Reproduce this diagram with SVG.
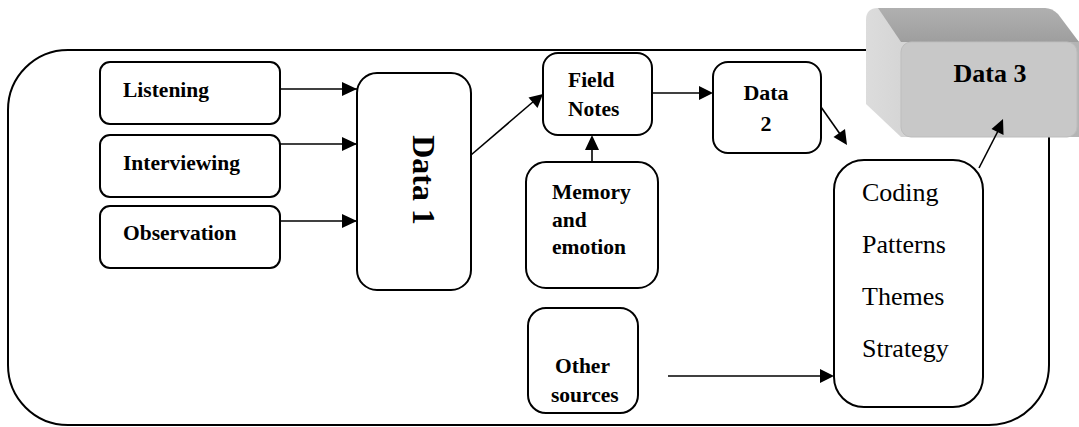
<svg xmlns="http://www.w3.org/2000/svg" width="1079" height="427" viewBox="0 0 1079 427">
  <defs>
    <style>
      .box { fill: #ffffff; stroke: #000000; stroke-width: 2; }
      .outer { fill: none; stroke: #000000; stroke-width: 2; }
      .lbl { font-family: "Liberation Serif", "Times New Roman", serif; font-weight: bold; font-size: 21.5px; fill: #000000; }
      .reg { font-family: "Liberation Serif", "Times New Roman", serif; font-size: 26px; fill: #000000; }
      .conn { stroke: #000000; stroke-width: 1.6; fill: none; marker-end: url(#arrow); }
    </style>
    <marker id="arrow" markerWidth="10" markerHeight="10" refX="9" refY="5" orient="auto" markerUnits="userSpaceOnUse" viewBox="0 0 10 10">
      <path d="M0,0 L10,5 L0,10 Z" fill="#000000"/>
    </marker>
    <linearGradient id="leftFace" x1="0" y1="0" x2="1" y2="0">
      <stop offset="0" stop-color="#dcdcdc"/>
      <stop offset="1" stop-color="#b4b4b4"/>
    </linearGradient>
    <linearGradient id="topFace" x1="0" y1="0" x2="0" y2="1">
      <stop offset="0" stop-color="#b0b0b0"/>
      <stop offset="1" stop-color="#9e9e9e"/>
    </linearGradient>
  </defs>

  <g id="frame">
    <rect class="outer" x="8" y="50" width="1041" height="375" rx="60" ry="60"/>
  </g>

  <g id="connectors">
    <line class="conn" x1="280" y1="89" x2="357" y2="89" style="marker-end:none"/>
    <path d="M342,82 L357,89 L342,96 Z" fill="#000"/>
    <line class="conn" x1="280" y1="144" x2="357" y2="144" style="marker-end:none"/>
    <path d="M342,137 L357,144 L342,151 Z" fill="#000"/>
    <line class="conn" x1="280" y1="221" x2="357" y2="221" style="marker-end:none"/>
    <path d="M342,214 L357,221 L342,228 Z" fill="#000"/>
    <line x1="471" y1="155" x2="534" y2="101" stroke="#000" stroke-width="1.6"/>
    <path d="M543,94 L537.5,108 L528.5,97.5 Z" fill="#000"/>
    <line x1="652" y1="93" x2="699" y2="93" stroke="#000" stroke-width="1.6"/>
    <path d="M699,86 L713,93 L699,100 Z" fill="#000"/>
    <line x1="592" y1="162" x2="592" y2="148" stroke="#000" stroke-width="1.6"/>
    <path d="M585,150 L592,135 L599,150 Z" fill="#000"/>
    <line x1="821" y1="107" x2="840" y2="134" stroke="#000" stroke-width="1.6"/>
    <path d="M847,145 L833.5,137 L845,129 Z" fill="#000"/>
    <line x1="668" y1="376" x2="820" y2="376" stroke="#000" stroke-width="1.6"/>
    <path d="M820,369 L834,376 L820,383 Z" fill="#000"/>
  </g>

  <g id="listening">
    <rect class="box" x="100" y="62" width="180" height="62" rx="10"/>
    <text class="lbl" x="123" y="97">Listening</text>
  </g>
  <g id="interviewing">
    <rect class="box" x="100" y="135" width="180" height="62" rx="10"/>
    <text class="lbl" x="123" y="170">Interviewing</text>
  </g>
  <g id="observation">
    <rect class="box" x="100" y="206" width="180" height="62" rx="10"/>
    <text class="lbl" x="123" y="240">Observation</text>
  </g>
  <g id="data1">
    <rect class="box" x="357" y="73" width="114" height="217" rx="20"/>
    <text class="lbl" style="font-size:32px" text-anchor="middle" transform="translate(413,180) rotate(90)">Data 1</text>
  </g>
  <g id="fieldnotes">
    <rect class="box" x="543" y="53" width="109" height="82" rx="15"/>
    <text class="lbl" x="568" y="87">Field</text>
    <text class="lbl" x="568" y="116">Notes</text>
  </g>
  <g id="memory">
    <rect class="box" x="526" y="162" width="132" height="126" rx="20"/>
    <text class="lbl" x="552" y="199">Memory</text>
    <text class="lbl" x="552" y="227">and</text>
    <text class="lbl" x="552" y="254">emotion</text>
  </g>
  <g id="data2">
    <rect class="box" x="713" y="62" width="108" height="91" rx="15"/>
    <text class="lbl" style="font-size:22px" text-anchor="middle" x="766" y="100">Data</text>
    <text class="lbl" style="font-size:22px" text-anchor="middle" x="766" y="131">2</text>
  </g>
  <g id="othersources">
    <rect class="box" x="528" y="308" width="110" height="105" rx="18"/>
    <text class="lbl" x="555" y="373">Other</text>
    <text class="lbl" x="551" y="402">sources</text>
  </g>
  <g id="coding">
    <rect class="box" x="834" y="160" width="149" height="247" rx="30"/>
    <text class="reg" x="862" y="201">Coding</text>
    <text class="reg" x="862" y="253">Patterns</text>
    <text class="reg" x="862" y="305">Themes</text>
    <text class="reg" x="862" y="357">Strategy</text>
  </g>
  <g id="data3">
    <path d="M878,8 L1045,8 L1079,42 L1079,137 L901,137 L866,104 L866,20 Q866,8 878,8 Z" fill="url(#leftFace)"/>
    <path d="M878,8 L1045,8 Q1052,8 1058,14 L1079,42 L901,42 Z" fill="url(#topFace)"/>
    <rect x="901" y="42" width="176" height="95" rx="10" fill="#c8c8c8" stroke="#bdbdbd" stroke-width="1"/>
    <text class="lbl" style="font-size:26px" text-anchor="middle" x="990" y="82">Data 3</text>
  </g>
  <g id="connectors-top">
    <line x1="979" y1="168" x2="998" y2="131" stroke="#000" stroke-width="1.6"/>
    <path d="M1003,119 L1003.5,135 L991.5,129 Z" fill="#000"/>
  </g>
</svg>
